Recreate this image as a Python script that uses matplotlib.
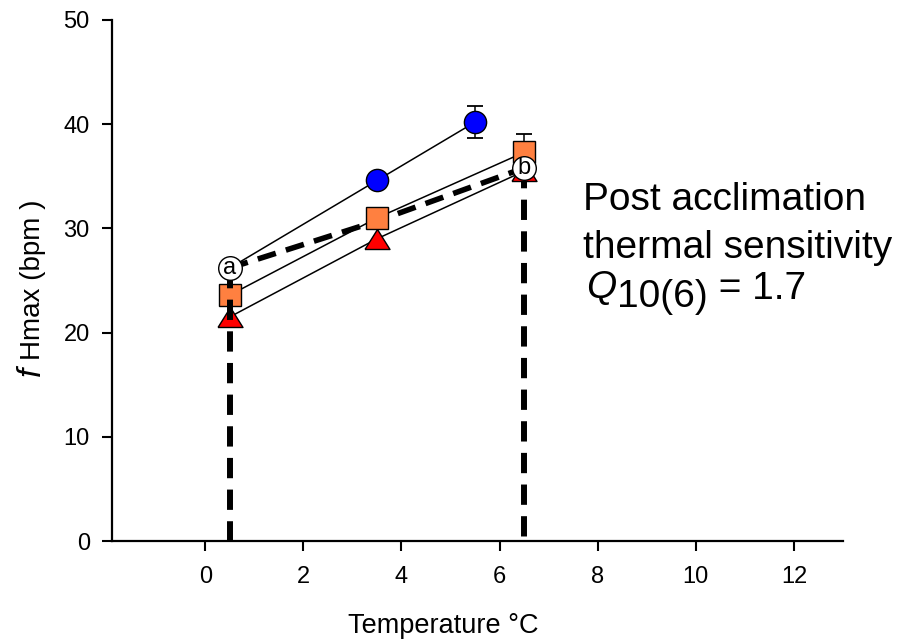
import matplotlib
matplotlib.use("Agg")
import matplotlib.pyplot as plt

plt.rcParams['font.family'] = ['Liberation Sans', 'DejaVu Sans']

temp_blue = [3.5, 5.5]
fh_blue = [34.6, 40.2]
err_blue = [0.0, 1.5]

temp_orange = [0.5, 3.5, 6.5]
fh_orange = [23.6, 31.0, 37.3]
err_orange = [0.0, 0.0, 1.8]

temp_red = [0.5, 3.5, 6.5]
fh_red = [21.5, 29.0, 35.5]

temp_ab = [0.5, 6.5]
fh_ab = [26.2, 35.8]
labels_ab = ['a', 'b']

dash_x = [0.5, 3.5, 6.5]
dash_y = [26.2, 30.7, 35.8]

W, H = 914, 639
def px(x, y):
    return x / W, 1 - y / H

fig = plt.figure(figsize=(9.14, 6.39), dpi=100)
ax = fig.add_axes([112 / W, 1 - 541 / H, (843 - 112) / W, (541 - 20) / H])

# thin connecting lines
ax.plot([temp_ab[0]] + temp_blue, [fh_ab[0]] + fh_blue, color='black', lw=1.1, zorder=2)
ax.plot(temp_orange, fh_orange, color='black', lw=1.1, zorder=2)
ax.plot(temp_red, fh_red, color='black', lw=1.1, zorder=2)

# thick dashed lines
dash = (0, (3.4, 1.9))
ax.plot(dash_x, dash_y, color='black', lw=4.0, ls=dash, zorder=4)
ax.plot([temp_ab[0], temp_ab[0]], [fh_ab[0], 0], color='black', lw=4.3, ls=dash, zorder=5.5)
ax.plot([temp_ab[1], temp_ab[1]], [fh_ab[1], 0], color='black', lw=4.3, ls=dash, zorder=3)

# error bars (only where an error is shown)
for xs, ys, es in [(temp_blue, fh_blue, err_blue), (temp_orange, fh_orange, err_orange)]:
    sel = [(x, y, e) for x, y, e in zip(xs, ys, es) if e > 0]
    if sel:
        ax.errorbar([s[0] for s in sel], [s[1] for s in sel], yerr=[s[2] for s in sel],
                    fmt='none', ecolor='black', capsize=5.5, elinewidth=1.1, capthick=1.3, zorder=4.8)

# markers
tri = [(-1, -0.8), (1, -0.8), (0, 0.8), (-1, -0.8)]
ax.plot(temp_red, fh_red, marker=tri, mfc='#ff0000', mec='black', ms=18, mew=1, zorder=4.5, ls='none')
ax.plot(temp_orange, fh_orange, 's', mfc='#ff8040', mec='black', ms=16, mew=1, zorder=5, ls='none')
ax.plot(temp_blue, fh_blue, 'o', mfc='#0000ff', mec='black', ms=16, mew=1, zorder=5, ls='none')
ax.plot(temp_ab, fh_ab, 'o', mfc='white', mec='black', ms=17, mew=1, zorder=6, ls='none')
for x, y, l in zip(temp_ab, fh_ab, labels_ab):
    ax.text(x, y, l, ha='center', va='center', fontsize=17, zorder=7)

ax.set_xlim(-1.9, 13)
ax.set_ylim(0, 50)
ax.set_xticks([0, 2, 4, 6, 8, 10, 12])
ax.set_yticks([0, 10, 20, 30, 40, 50])
ax.tick_params(labelsize=17, length=7, width=1.5, direction='out')
ax.tick_params(axis='x', pad=11)
ax.tick_params(axis='y', pad=9)
for s in ['top', 'right']:
    ax.spines[s].set_visible(False)
for s in ['left', 'bottom']:
    ax.spines[s].set_linewidth(1.6)

# axis labels
fig.text(*px(443, 633), 'Temperature °C', fontsize=19.5, ha='center', va='baseline')
fig.text(*px(40, 376), 'f', fontsize=24, style='italic', rotation=90,
         rotation_mode='anchor', ha='left', va='baseline')
fig.text(*px(40, 360), 'Hmax (bpm )', fontsize=20, rotation=90,
         rotation_mode='anchor', ha='left', va='baseline')

# annotation
fs = 28
fig.text(*px(583, 210), 'Post acclimation', fontsize=fs, ha='left', va='baseline')
fig.text(*px(583, 258), 'thermal sensitivity', fontsize=fs, ha='left', va='baseline')
fig.canvas.draw()
r = fig.canvas.get_renderer()
tq = fig.text(*px(586, 298), 'Q', fontsize=fs, style='italic', ha='left', va='baseline')
bb = tq.get_window_extent(r)
t2 = fig.text((bb.x1 + 1) / W, 1 - 307 / H, '10(6)', fontsize=fs, ha='left', va='baseline')
bb2 = t2.get_window_extent(r)
fig.text(bb2.x1 / W, 1 - 299 / H, ' = 1.7', fontsize=fs, ha='left', va='baseline')

fig.savefig('out.png', dpi=100)
